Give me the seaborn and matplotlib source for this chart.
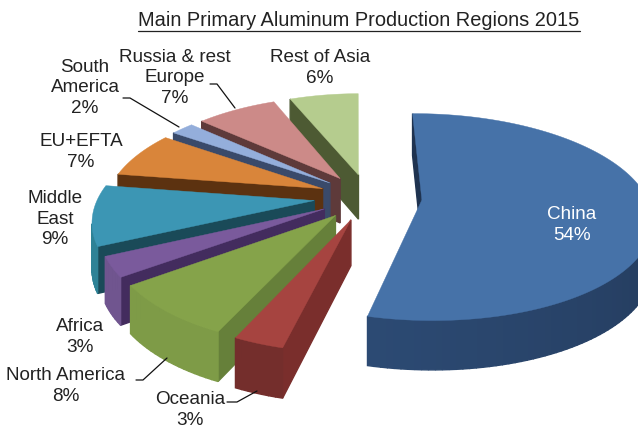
import numpy as np
import pandas as pd
import seaborn as sns
import matplotlib
matplotlib.use("Agg")
import matplotlib.pyplot as plt
from matplotlib.colors import to_rgb

regions = ["China", "Oceania", "North America", "Africa", "Middle East",
           "EU+EFTA", "South America", "Russia & rest Europe", "Rest of Asia"]
shares = [54, 3, 8, 3, 9, 7, 2, 7, 6]
label_text = ["China\n54%", "Oceania\n3%", "North America\n8%", "Africa\n3%", "Middle\nEast\n9%",
              "EU+EFTA\n7%", "South\nAmerica\n2%", "Russia & rest\nEurope\n7%", "Rest of Asia\n6%"]
df = pd.DataFrame({"region": regions, "share": shares, "label": label_text})

top_colors = ["#4672A8", "#A64440", "#85A34A", "#7A5A9C", "#3C96B4",
              "#D9853A", "#94AEDB", "#CC8A88", "#B5CC8E"]
radial_colors = ["#1F3350", "#7A2E2C", "#66803A", "#432C5E", "#1A4A58",
                 "#5C3210", "#3A4A6A", "#5E3A3A", "#4D5A33"]
outer_colors = ["#1B2B44", "#742E2C", "#7E9B47", "#70558F", "#2E8296",
                "#B8702F", "#7F96BE", "#B57A78", "#A0B57C"]
outer_left_colors = ["#2C4A73", "#742E2C", "#7E9B47", "#70558F", "#2E8296",
                     "#B8702F", "#7F96BE", "#B57A78", "#A0B57C"]
explode = [0.24, 0.22, 0.22, 0.22, 0.24, 0.22, 0.22, 0.22, 0.22]
radius = [1.0, 0.96, 0.96, 0.96, 0.96, 0.96, 0.96, 0.96, 0.96]
squash = [0.94, 1, 1, 1, 1, 1, 1, 1, 1]
label_xy = [(572, 225), (190, 410), (66, 386), (80, 337), (55, 219),
            (81, 152), (85, 88), (175, 78), (320, 68)]
leaders = {"South America": [(123, 98), (130, 98), (179, 127)],
           "Russia & rest Europe": [(210, 84), (217, 84), (235, 108)],
           "North America": [(136, 380), (143, 380), (167, 358)],
           "Oceania": [(227, 402), (237, 402), (257, 391)]}

sns.set_theme(style="white")
plt.rcParams["font.family"] = ["Liberation Sans", "DejaVu Sans"]

fig = plt.figure(figsize=(6.38, 4.29), dpi=100)
ax = fig.add_axes([0, 0, 1, 1])
ax.set_xlim(0, 638)
ax.set_ylim(429, 0)
ax.axis("off")

CX, CY, RX, RY, K, DEPTH = 368, 197, 225, 106, 0.175, 45
START = np.deg2rad(-0.5)


def project(u, v, z=0.0):
    s = 1.0 / (1.0 + K * v)
    return CX + RX * u * s, CY - RY * v * s + DEPTH * z * np.sqrt(s)


def shoelace(p):
    p = np.asarray(p)
    x, y = p[:, 0], p[:, 1]
    return 0.5 * np.sum(x * np.roll(y, -1) - np.roll(x, -1) * y)


# shares are rounded and add up to 99: China keeps its 54%, the others share the rest
vals = df["share"].to_numpy(dtype=float)
fractions = vals / 100.0
fractions[1:] = vals[1:] / vals[1:].sum() * (1 - fractions[0])
edges = START + np.concatenate([[0], np.cumsum(fractions)]) * 2 * np.pi

z = 1
for i in range(len(df) - 1, -1, -1):
    a0, a1 = edges[i], edges[i + 1]
    mid = (a0 + a1) / 2
    ou, ov = explode[i] * np.sin(mid), explode[i] * np.cos(mid)
    th = np.linspace(a0, a1, max(8, int((a1 - a0) * 40)))
    r = radius[i]
    ring = [(ou, ov)] + [(ou + r * np.sin(t), ov + r * squash[i] * np.cos(t)) for t in th]
    n = len(ring)
    walls = []
    for j in range(n):
        a, b = ring[j], ring[(j + 1) % n]
        quad = [project(*a), project(*b), project(*b, 1), project(*a, 1)]
        if shoelace(quad) < 0:  # y axis points down: negative means facing the viewer
            if j == 0 or j == n - 1:
                col = to_rgb(radial_colors[i])
            else:
                f = (j - 1) / max(1, n - 3)
                col = tuple((1 - f) * c1 + f * c2 for c1, c2 in
                            zip(to_rgb(outer_colors[i]), to_rgb(outer_left_colors[i])))
            walls.append(((a[1] + b[1]) / 2, quad, col))
    for _, quad, col in sorted(walls, key=lambda w: -w[0]):
        q = np.array(quad)
        ax.fill(q[:, 0], q[:, 1], color=col, lw=1.0, zorder=z)
        z += 1
    top = np.array([project(*p) for p in ring])
    ax.fill(top[:, 0], top[:, 1], color=top_colors[i], lw=0.3, zorder=z)
    z += 1

for i, row in df.iterrows():
    col = "white" if row["region"] == "China" else "#222222"
    ax.text(*label_xy[i], row["label"], ha="center", va="center", fontsize=13.6,
            color=col, linespacing=1.28, zorder=z + 2)

for pts in leaders.values():
    p = np.array(pts)
    ax.plot(p[:, 0], p[:, 1], color="#111111", lw=0.9, zorder=z + 1)

title = ax.text(359, 21, "Main Primary Aluminum Production Regions 2015", ha="center",
                va="center", fontsize=14.45, color="#222222", zorder=z + 2)
fig.canvas.draw()
bb = title.get_window_extent().transformed(ax.transData.inverted())
ax.plot([bb.x0, bb.x1], [bb.y0 + 0.5, bb.y0 + 0.5], color="#222222", lw=0.9, zorder=z + 2)

fig.savefig("out.png", dpi=100)
